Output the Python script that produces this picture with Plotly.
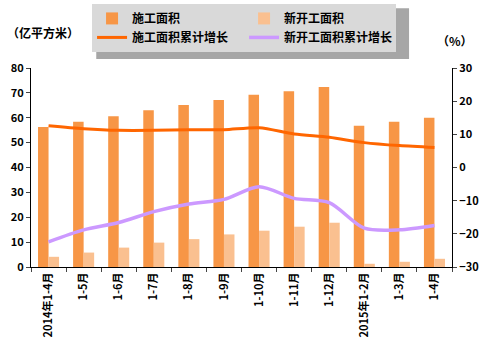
import plotly.graph_objects as go

categories = ["2014年1-4月", "1-5月", "1-6月", "1-7月", "1-8月", "1-9月",
              "1-10月", "1-11月", "1-12月", "2015年1-2月", "1-3月", "1-4月"]
construction_area = [56.3, 58.4, 60.6, 63.0, 65.1, 67.1, 69.2, 70.7, 72.4, 56.8, 58.4, 60.0]
new_start_area = [4.1, 5.8, 7.8, 9.8, 11.2, 13.1, 14.6, 16.2, 17.8, 1.3, 2.1, 3.3]
construction_growth = [12.6, 11.7, 11.2, 11.2, 11.4, 11.4, 12.0, 10.1, 9.1, 7.5, 6.6, 6.0]
new_start_growth = [-22.4, -18.8, -16.6, -13.3, -11.0, -9.6, -5.8, -9.3, -10.6, -18.3, -18.8, -17.5]

FONT = "Noto Sans CJK SC"

fig = go.Figure()
fig.add_trace(go.Bar(x=categories, y=construction_area, name="施工面积",
                     marker=dict(color="#f79646", line=dict(width=0))))
fig.add_trace(go.Bar(x=categories, y=new_start_area, name="新开工面积",
                     marker=dict(color="#fac090", line=dict(width=0))))
fig.add_trace(go.Scatter(x=categories, y=construction_growth, name="施工面积累计增长",
                         mode="lines", yaxis="y2",
                         line=dict(color="#ff6600", width=3, shape="spline", smoothing=0.8)))
fig.add_trace(go.Scatter(x=categories, y=new_start_growth, name="新开工面积累计增长",
                         mode="lines", yaxis="y2",
                         line=dict(color="#cc99ff", width=3.5, shape="spline", smoothing=0.8)))

fig.update_layout(
    width=488, height=357,
    margin=dict(l=31, r=36, t=68, b=90, autoexpand=False),
    paper_bgcolor="white", plot_bgcolor="white",
    font=dict(family=FONT, size=11, color="black"),
    barmode="group", bargap=0.4, bargroupgap=0,
    showlegend=True,
    legend=dict(orientation="h", x=0.145, y=1.322, xanchor="left", yanchor="top",
                bgcolor="#d9d9d9", entrywidth=107, entrywidthmode="pixels",
                font=dict(family=FONT, size=12, color="black", weight="bold"),
                traceorder="normal", itemwidth=30),
    xaxis=dict(type="category", tickangle=-90, showline=True, linecolor="black",
               linewidth=1, ticks="outside", tickson="boundaries", ticklen=4,
               tickfont=dict(family=FONT, size=11, weight="bold"), showgrid=False,
               automargin=False),
    yaxis=dict(range=[0, 80], dtick=10, showline=True, linecolor="black", linewidth=1,
               ticks="outside", ticklen=4, showgrid=False, zeroline=False,
               tickfont=dict(family=FONT, size=11, weight="bold"), automargin=False),
    yaxis2=dict(range=[-30, 30], dtick=10, overlaying="y", side="right",
                showline=True, linecolor="black", linewidth=1, ticks="outside",
                ticklen=4, showgrid=False, zeroline=False,
                tickfont=dict(family=FONT, size=11, weight="bold"), automargin=False),
    shapes=[
        dict(type="rect", xref="paper", yref="paper", x0=0.155, x1=0.898,
             y0=1.045, y1=1.30, fillcolor="#a6a6a6", line=dict(width=0), layer="below"),
    ],
    annotations=[
        dict(text="（亿平方米）", xref="paper", yref="paper", x=-0.062, y=1.176,
             xanchor="left", yanchor="middle", showarrow=False,
             font=dict(family=FONT, size=12, weight="bold")),
        dict(text="（%）", xref="paper", yref="paper", x=1.055, y=1.136,
             xanchor="right", yanchor="middle", showarrow=False,
             font=dict(family=FONT, size=12, weight="bold")),
    ],
)

fig.write_html("out.html", config={"displayModeBar": False},
               post_script="document.body.style.margin='0';")
